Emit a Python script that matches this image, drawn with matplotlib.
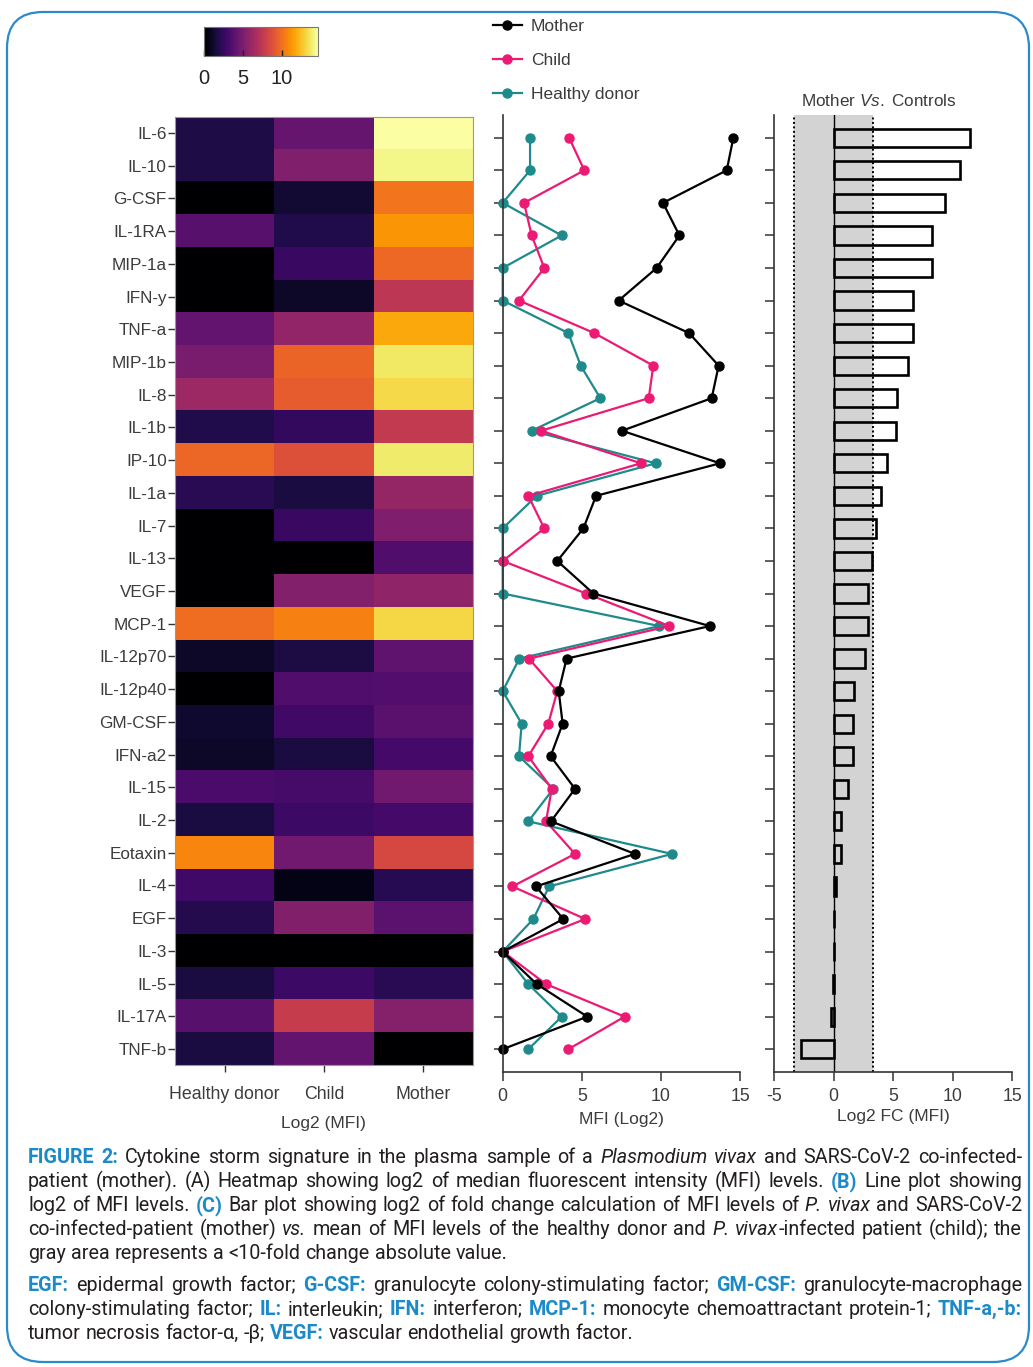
import re
import numpy as np
import matplotlib
matplotlib.use('Agg')
import matplotlib.pyplot as plt
from matplotlib.patches import FancyBboxPatch

plt.rcParams['font.family'] = ['Liberation Sans', 'DejaVu Sans']
plt.rcParams['mathtext.fontset'] = 'custom'
plt.rcParams['mathtext.rm'] = 'Liberation Sans'
plt.rcParams['mathtext.it'] = 'Liberation Sans:italic'
plt.rcParams['axes.unicode_minus'] = False

# ---- data (log2 MFI) ----
cytokines = ['IL-6', 'IL-10', 'G-CSF', 'IL-1RA', 'MIP-1a', 'IFN-y', 'TNF-a', 'MIP-1b',
             'IL-8', 'IL-1b', 'IP-10', 'IL-1a', 'IL-7', 'IL-13', 'VEGF', 'MCP-1',
             'IL-12p70', 'IL-12p40', 'GM-CSF', 'IFN-a2', 'IL-15', 'IL-2', 'Eotaxin',
             'IL-4', 'EGF', 'IL-3', 'IL-5', 'IL-17A', 'TNF-b']
mother = [14.58, 14.16, 10.13, 11.17, 9.73, 7.33, 11.78, 13.65, 13.21, 7.54, 13.74,
          5.90, 5.10, 3.45, 5.73, 13.10, 4.04, 3.54, 3.79, 3.03, 4.57, 3.05, 8.36,
          2.10, 3.83, 0.0, 2.15, 5.35, 0.0]
child = [4.20, 5.16, 1.35, 1.83, 2.63, 1.03, 5.79, 9.52, 9.23, 2.42, 8.74,
         1.62, 2.63, 0.0, 5.27, 10.53, 1.66, 3.45, 2.88, 1.62, 3.10, 2.74, 4.57,
         0.61, 5.22, 0.0, 2.74, 7.71, 4.15]
healthy = [1.73, 1.73, 0.0, 3.73, 0.0, 0.0, 4.15, 4.93, 6.17, 1.83, 9.67,
           2.15, 0.0, 0.0, 0.0, 9.90, 1.05, 0.0, 1.20, 1.03, 3.20, 1.62, 10.70,
           2.93, 1.94, 0.0, 1.62, 3.73, 1.62]
fold_change = [11.49, 10.59, 9.33, 8.29, 8.26, 6.69, 6.66, 6.26, 5.34, 5.22, 4.49,
               3.99, 3.60, 3.23, 2.92, 2.87, 2.67, 1.74, 1.60, 1.63, 1.24, 0.67, 0.62,
               0.25, 0.08, 0.0, -0.08, -0.22, -2.70]
groups = ['Healthy donor', 'Child', 'Mother']

W, H = 1033, 1367
fig = plt.figure(figsize=(W / 100, H / 100), dpi=100)
txt_col = '#3c3c3c'
ax_col = '#333333'


def box(l, t, r, b):
    return [l / W, 1 - b / H, (r - l) / W, (b - t) / H]


n = len(cytokines)
rows = np.arange(n)

# ---- A: heatmap ----
ax1 = fig.add_axes(box(175, 116.6, 472.7, 1065.4))
heat = np.column_stack([healthy, child, mother])
im = ax1.imshow(heat, cmap='inferno', aspect='auto', vmin=0, vmax=heat.max(),
                interpolation='nearest')
ax1.set_yticks(rows)
ax1.set_yticklabels(cytokines)
ax1.set_xticks(range(3))
ax1.set_xticklabels(groups)
ax1.tick_params(axis='y', length=5, width=1, pad=1, labelsize=12.3, colors=ax_col, labelcolor=txt_col)
ax1.tick_params(axis='x', length=5, width=1, pad=10, labelsize=12.8, colors=ax_col, labelcolor=txt_col)
ax1.set_xlabel('Log2 (MFI)', fontsize=12.5, color=txt_col, labelpad=9)
for s in ax1.spines.values():
    s.set_color('#999999')
    s.set_linewidth(0.8)

cax = fig.add_axes(box(204.3, 27, 317.7, 56))
cb = fig.colorbar(im, cax=cax, orientation='horizontal', ticks=[0, 5, 10])
cb.ax.tick_params(direction='in', length=4, width=1, labelsize=14.5, pad=9, colors='#222222')
cb.outline.set_edgecolor('#777777')
cb.outline.set_linewidth(0.8)

# ---- B: line plot ----
ax2 = fig.add_axes(box(502.7, 115, 740, 1072))
series = [(healthy, '#1f8a8b', 'Healthy donor'),
          (child, '#ec1a72', 'Child'),
          (mother, '#000000', 'Mother')]
handles = {}
for vals, col, lab in series:
    h, = ax2.plot(vals, rows, '-o', color=col, lw=1.6, ms=6.5, label=lab, clip_on=False)
    handles[lab] = h
ax2.set_xlim(0, 15)
ax2.set_ylim(n - 1 + 0.7, -0.7)
ax2.set_xticks([0, 5, 10, 15])
ax2.set_yticks(rows)
ax2.set_yticklabels([])
for s in ['top', 'right']:
    ax2.spines[s].set_visible(False)
for s in ['left', 'bottom']:
    ax2.spines[s].set_color(ax_col)
    ax2.spines[s].set_linewidth(1.2)
ax2.tick_params(length=6.5, width=1.1, colors=ax_col, labelcolor=txt_col, labelsize=12.8, pad=5)
ax2.set_xlabel('MFI (Log2)', fontsize=12.5, color=txt_col, labelpad=5)

order = ['Mother', 'Child', 'Healthy donor']
fig.legend([handles[k] for k in order], order, loc='upper left',
           bbox_to_anchor=(484 / W, 1 - 10 / H), frameon=False, fontsize=12.5,
           handlelength=1.7, handletextpad=0.5, labelspacing=1.1, borderpad=0,
           labelcolor=txt_col)

# ---- C: fold change bars ----
ax3 = fig.add_axes(box(774, 115, 1012, 1072))
thr = np.log2(10)
ax3.axvspan(-thr, thr, color='#d3d3d3', lw=0, zorder=0)
for xv in (-thr, thr):
    ax3.axvline(xv, color='black', ls=(0, (1, 1.3)), lw=1.4, zorder=1)
ax3.axvline(0, color='black', lw=1.0, zorder=1)
ax3.barh(rows, fold_change, height=0.56, facecolor='none', edgecolor='black',
         lw=1.9, zorder=2)
ax3.set_xlim(-5, 15)
ax3.set_ylim(n - 1 + 0.7, -0.7)
ax3.set_xticks([-5, 0, 5, 10, 15])
ax3.set_yticks(rows)
ax3.set_yticklabels([])
for s in ['top', 'right']:
    ax3.spines[s].set_visible(False)
for s in ['left', 'bottom']:
    ax3.spines[s].set_color(ax_col)
    ax3.spines[s].set_linewidth(1.2)
ax3.tick_params(length=6.5, width=1.1, colors=ax_col, labelcolor=txt_col, labelsize=12.8, pad=5)
ax3.set_xlabel('Log2 FC (MFI)', fontsize=12.5, color=txt_col, labelpad=3)
fig.text(879 / W, 1 - 101 / H, r'Mother $\it{Vs.}$ Controls', ha='center', va='center',
         fontsize=12.3, color=txt_col)

# ---- frame and caption ----
bg = fig.add_axes([0, 0, 1, 1], zorder=-5)
bg.set_xlim(0, W)
bg.set_ylim(H, 0)
bg.axis('off')
bg.add_patch(FancyBboxPatch((7, 12), 1022, 1350, boxstyle='round,pad=0,rounding_size=36',
                            fc='none', ec='#2b8bca', lw=1.6))

caption = [
    ('[FIGURE 2:] Cytokine storm signature in the plasma sample of a *Plasmodium vivax* and SARS-CoV-2 co-infected-', True),
    ('patient (mother). (A) Heatmap showing log2 of median fluorescent intensity (MFI) levels. [(B)] Line plot showing', True),
    ('log2 of MFI levels. [(C)] Bar plot showing log2 of fold change calculation of MFI levels of *P. vivax* and SARS-CoV-2', True),
    ('co-infected-patient (mother) *vs.* mean of MFI levels of the healthy donor and *P. vivax*-infected patient (child); the', True),
    ('gray area represents a <10-fold change absolute value.', False),
    ('[EGF:] epidermal growth factor; [G-CSF:] granulocyte colony-stimulating factor; [GM-CSF:] granulocyte-macrophage', True),
    ('colony-stimulating factor; [IL:] interleukin; [IFN:] interferon; [MCP-1:] monocyte chemoattractant protein-1; [TNF-a,-b:]', True),
    ('tumor necrosis factor-\u03b1, -\u03b2; [VEGF:] vascular endothelial growth factor.', False),
]
line_y = [1157, 1181, 1205, 1229, 1253, 1285, 1309, 1333]
cap_left, cap_right = 28, 1022
cap_font = ['Roboto', 'DejaVu Sans']
styles = {'n': dict(color='#231f20'),
          'i': dict(color='#231f20', style='italic'),
          'b': dict(color='#1c8ac8', weight='bold')}


def parse(line):
    chunks = re.findall(r'\[[^\]]*\]|\*[^*]*\*|[^\[\*]+', line)
    words = [[]]
    for ch in chunks:
        if ch.startswith('['):
            st, t = 'b', ch[1:-1]
        elif ch.startswith('*'):
            st, t = 'i', ch[1:-1]
        else:
            st, t = 'n', ch
        for k, p in enumerate(t.split(' ')):
            if k > 0:
                words.append([])
            if p:
                words[-1].append((p, st))
    return [w for w in words if w]


renderer = fig.canvas.get_renderer()


def width(s, st, fs):
    t = bg.text(0, 0, s, fontsize=fs, family=cap_font, **styles[st])
    w = t.get_window_extent(renderer).width
    t.remove()
    return w


parsed = [parse(l) for l, _ in caption]
fs = 14.5
while fs > 9:
    sp = width('a a', 'n', fs) - width('aa', 'n', fs)
    ok = True
    for words in parsed:
        tot = sum(width(p, st, fs) for w in words for p, st in w) + sp * (len(words) - 1)
        if tot > cap_right - cap_left:
            ok = False
    if ok:
        break
    fs -= 0.25

sp = width('a a', 'n', fs) - width('aa', 'n', fs)
for words, (line, just), yc in zip(parsed, caption, line_y):
    ws = [[(p, st, width(p, st, fs)) for p, st in w] for w in words]
    tot = sum(x[2] for w in ws for x in w)
    gap = (cap_right - cap_left - tot) / (len(ws) - 1) if just else sp
    x = cap_left
    for w in ws:
        for p, st, pw in w:
            bg.text(x, yc + 6, p, fontsize=fs, family=cap_font, va='baseline', **styles[st])
            x += pw
        x += gap

fig.savefig('out.png', dpi=100)
